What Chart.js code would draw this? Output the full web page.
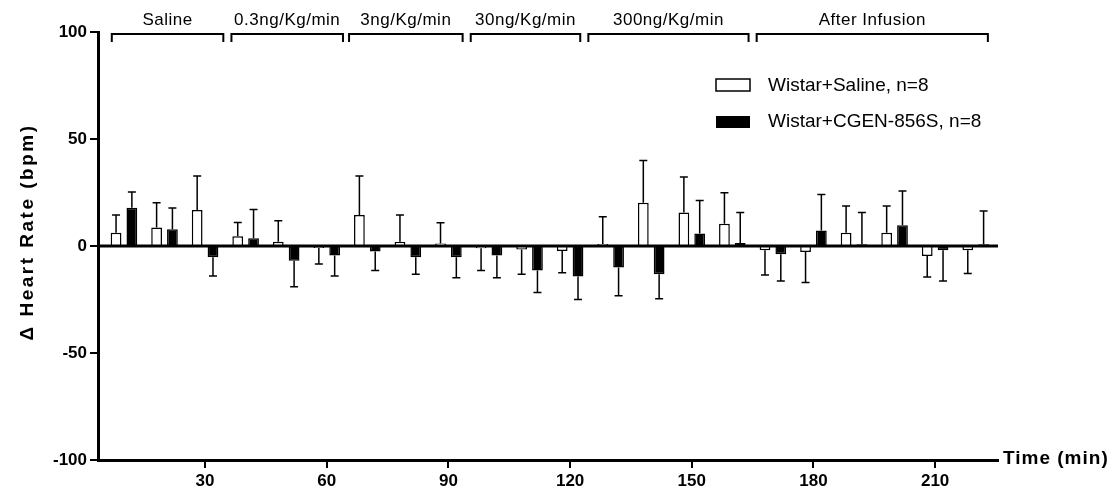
<!DOCTYPE html>
<html>
<head>
<meta charset="utf-8">
<style>
  body { margin: 0; background: #fff; }
  #wrap { width: 1117px; height: 498px; }
</style>
</head>
<body>
<div id="wrap"><canvas id="hrChart"></canvas></div>

<script src="https://cdn.jsdelivr.net/npm/chart.js"></script>

<script>
    // time points (min)
    const times = [10, 20, 30, 40, 50, 60, 70, 80, 90, 100, 110, 120, 130, 140, 150, 160, 170, 180, 190, 200, 210, 220];

    // Wistar+Saline: mean and SEM
    const salineMean = [6.2, 8.7, 16.8, 4.5, 2.0, -0.9, 14.5, 2.0, 1.2, -1.1, -1.6, -2.3, 0.9, 20.2, 15.6, 10.4, -2.0, -2.8, 6.2, 6.2, -4.7, -2.0];
    const salineSem  = [8.3, 11.5, 15.9, 6.5, 9.8, 7.5, 18.2, 12.5, 9.7, 10.4, 11.6, 10.2, 12.8, 19.8, 16.6, 14.5, 11.6, 14.3, 12.5, 12.5, 9.8, 10.9];

    // Wistar+CGEN-856S: mean and SEM
    const cgenMean = [17.9, 7.8, -5.3, 3.6, -6.9, -4.4, -2.6, -5.3, -5.3, -4.4, -11.5, -14.3, -10.1, -13.2, 5.8, 1.4, -3.9, 7.3, 0.8, 9.7, -2.0, 0.8];
    const cgenSem  = [7.3, 10.0, 8.7, 13.4, 12.1, 9.6, 8.9, 7.9, 9.5, 10.4, 10.2, 10.7, 13.1, 11.4, 15.5, 14.2, 12.5, 16.8, 14.8, 16.0, 14.4, 15.6];

    const xTicks = [30, 60, 90, 120, 150, 180, 210];
    const yTicks = [-100, -50, 0, 50, 100];

    // infusion periods shown by the brackets on top (min)
    const periodLabels = ['Saline', '0.3ng/Kg/min', '3ng/Kg/min', '30ng/Kg/min', '300ng/Kg/min', 'After Infusion'];
    const periodStart  = [7, 36.5, 65.5, 95.5, 124.5, 166];
    const periodEnd    = [34.5, 64, 93.5, 122.5, 164, 223];

    const FONT = 'Arial, "Liberation Sans", Helvetica, sans-serif';
    Chart.defaults.font.family = FONT;
    Chart.defaults.color = '#000';

    const extras = {
        id: 'extras',
        afterDatasetsDraw(chart) {
            const { ctx, chartArea: a, scales: { x, y } } = chart;
            ctx.save();
            ctx.strokeStyle = '#000';
            ctx.fillStyle = '#000';

            // zero line
            const y0 = y.getPixelForValue(0);
            ctx.lineWidth = 3;
            ctx.beginPath();
            ctx.moveTo(a.left, y0);
            ctx.lineTo(a.right, y0);
            ctx.stroke();

            // one-sided error bars
            const sems = [salineSem, cgenSem];
            ctx.lineWidth = 1.5;
            chart.data.datasets.forEach((ds, d) => {
                chart.getDatasetMeta(d).data.forEach((bar, i) => {
                    const m = ds.data[i].y;
                    const s = sems[d][i];
                    const tip = y.getPixelForValue(m < 0 ? m - s : m + s);
                    ctx.beginPath();
                    ctx.moveTo(bar.x, bar.y);
                    ctx.lineTo(bar.x, tip);
                    ctx.moveTo(bar.x - 4, tip);
                    ctx.lineTo(bar.x + 4, tip);
                    ctx.stroke();
                });
            });

            // period brackets
            ctx.lineWidth = 2;
            ctx.font = '17px ' + FONT;
            ctx.letterSpacing = '0.5px';
            ctx.textAlign = 'center';
            ctx.textBaseline = 'middle';
            periodLabels.forEach((lab, i) => {
                const x1 = x.getPixelForValue(periodStart[i]);
                const x2 = x.getPixelForValue(periodEnd[i]);
                ctx.beginPath();
                ctx.moveTo(x1, 42);
                ctx.lineTo(x1, 34);
                ctx.lineTo(x2, 34);
                ctx.lineTo(x2, 42);
                ctx.stroke();
                ctx.fillText(lab, (x1 + x2) / 2, 20);
            });

            // legend
            ctx.letterSpacing = '0px';
            ctx.lineWidth = 1.5;
            ctx.fillStyle = '#fff';
            ctx.fillRect(716, 79, 34, 12);
            ctx.strokeRect(716, 79, 34, 12);
            ctx.fillStyle = '#000';
            ctx.fillRect(716, 116, 34, 12);
            ctx.font = '19px ' + FONT;
            ctx.textAlign = 'left';
            ctx.fillText(chart.data.datasets[0].label, 768, 86);
            ctx.fillText(chart.data.datasets[1].label, 768, 122);

            // axis titles
            ctx.font = 'bold 19px ' + FONT;
            ctx.letterSpacing = '1px';
            ctx.fillText('Time (min)', 1003, 459);
            ctx.translate(28, 232);
            ctx.rotate(-Math.PI / 2);
            ctx.textAlign = 'center';
            ctx.letterSpacing = '2.5px';
            ctx.fillText('\u0394 Heart Rate (bpm)', 0, 0);
            ctx.restore();
        }
    };

    const ctx = document.getElementById('hrChart').getContext('2d');
    const hrChart = new Chart(ctx, {
        type: 'bar',
        data: {
            datasets: [{
                label: 'Wistar+Saline, n=8',
                data: times.map((t, i) => ({ x: t, y: salineMean[i] })),
                backgroundColor: '#fff',
                borderColor: '#000',
                borderWidth: 1.5,
                categoryPercentage: 0.78,
                barPercentage: 0.68
            }, {
                label: 'Wistar+CGEN-856S, n=8',
                data: times.map((t, i) => ({ x: t, y: cgenMean[i] })),
                backgroundColor: '#000',
                borderColor: '#000',
                borderWidth: 1.5,
                categoryPercentage: 0.78,
                barPercentage: 0.68
            }]
        },
        options: {
            responsive: true,
            maintainAspectRatio: false,
            animation: false,
            layout: { padding: { left: 0, right: 119, top: 32, bottom: 0 } },
            plugins: { legend: { display: false }, tooltip: { enabled: false } },
            scales: {
                x: {
                    type: 'linear',
                    offset: false,
                    min: 3.6,
                    max: 225.5,
                    afterBuildTicks: s => { s.ticks = xTicks.map(v => ({ value: v })); },
                    afterFit: s => { s.height = 38; },
                    border: { display: true, width: 3, color: '#000' },
                    grid: { offset: false, drawOnChartArea: false, drawTicks: true, tickLength: 8, lineWidth: 2, color: '#000' },
                    ticks: { font: { size: 17, weight: 'bold' }, padding: 3, maxRotation: 0 }
                },
                y: {
                    min: -100,
                    max: 100,
                    afterBuildTicks: s => { s.ticks = yTicks.map(v => ({ value: v })); },
                    afterFit: s => { s.width = 98; },
                    border: { display: true, width: 3, color: '#000' },
                    grid: { drawOnChartArea: false, drawTicks: true, tickLength: 8, lineWidth: 2, color: '#000' },
                    ticks: { font: { size: 17, weight: 'bold' }, padding: 3 }
                }
            }
        },
        plugins: [extras]
    });
</script>
</body>
</html>
